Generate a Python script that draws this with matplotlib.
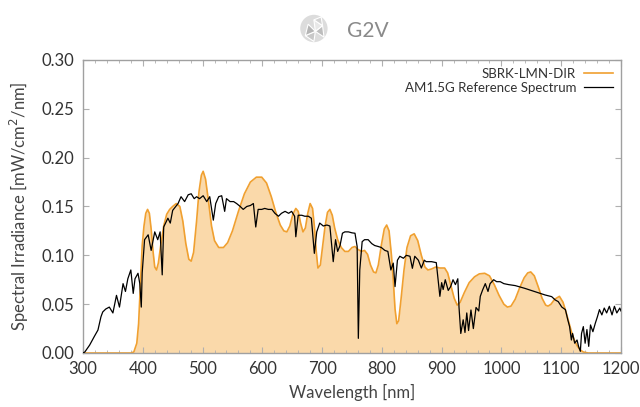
import numpy as np
import matplotlib.pyplot as plt
from matplotlib.ticker import MultipleLocator
from matplotlib.patches import Circle, Polygon

plt.rcParams["font.family"] = ["Lato", "DejaVu Sans"]

# SBRK-LMN-DIR simulator spectrum
sim_nm = [300, 380, 385, 390, 393, 396, 399, 402, 405, 408, 411, 414, 417, 420, 423, 426, 430,
          435, 440, 445, 450, 456, 462, 467, 472, 477, 481, 485, 490, 494, 498, 501, 505, 510,
          515, 520, 527, 535, 542, 550, 560, 570, 580, 590, 599, 607, 615, 622, 630, 636, 641,
          646, 651, 656, 660, 664, 668, 672, 676, 680, 684, 687, 690, 693, 697, 701, 705, 709,
          713, 717, 721, 726, 732, 738, 744, 750, 755, 760, 766, 771, 776, 781, 786, 790, 794,
          799, 804, 808, 812, 816, 819, 822, 825, 828, 832, 837, 842, 848, 854, 860, 866, 872,
          877, 883, 890, 897, 905, 910, 916, 921, 926, 931, 938, 946, 955, 963, 972, 980, 988,
          996, 1004, 1010, 1016, 1023, 1030, 1038, 1044, 1049, 1055, 1062, 1068, 1074, 1078,
          1083, 1089, 1097, 1103, 1108, 1112, 1117, 1122, 1127, 1132, 1137, 1145, 1200]
sim_val = [0, 0, 0.001, 0.01, 0.03, 0.07, 0.11, 0.13, 0.143, 0.147, 0.143, 0.127, 0.105, 0.088,
           0.085, 0.092, 0.11, 0.13, 0.142, 0.147, 0.150, 0.153, 0.15, 0.135, 0.112, 0.096,
           0.094, 0.103, 0.135, 0.165, 0.182, 0.186, 0.178, 0.155, 0.13, 0.115, 0.108, 0.108,
           0.113, 0.125, 0.145, 0.163, 0.175, 0.180, 0.180, 0.174, 0.16, 0.145, 0.131, 0.125,
           0.124, 0.13, 0.142, 0.148, 0.145, 0.133, 0.124, 0.128, 0.143, 0.153, 0.148, 0.13,
           0.105, 0.087, 0.09, 0.11, 0.13, 0.144, 0.147, 0.141, 0.128, 0.116, 0.108, 0.104,
           0.104, 0.108, 0.109, 0.106, 0.104, 0.105, 0.101, 0.09, 0.083, 0.082, 0.09, 0.11,
           0.127, 0.131, 0.125, 0.1, 0.075, 0.045, 0.03, 0.033, 0.055, 0.085, 0.108, 0.12,
           0.122, 0.115, 0.1, 0.088, 0.085, 0.086, 0.088, 0.087, 0.087, 0.082, 0.068, 0.056,
           0.049, 0.052, 0.062, 0.072, 0.078, 0.081, 0.0816, 0.079, 0.07, 0.059, 0.05, 0.047,
           0.048, 0.055, 0.066, 0.077, 0.082, 0.083, 0.079, 0.067, 0.056, 0.049, 0.048, 0.05,
           0.055, 0.058, 0.052, 0.042, 0.033, 0.022, 0.013, 0.007, 0.003, 0.001, 0, 0]

# AM1.5G reference spectrum
ref_nm = [300, 303, 311, 319, 325, 330, 333, 338, 344, 350, 356, 361, 367, 371, 375, 380, 384,
          387, 392, 395, 397.5, 399, 403, 409, 414, 420, 425, 429, 432.5, 435, 442, 446, 450,
          459, 464, 470, 476, 481, 486, 490, 495, 501, 507, 512, 518, 522, 527, 532, 537, 540,
          546, 552, 557, 563, 568, 574, 580, 585, 589, 593, 599, 604, 610, 616, 621, 627, 632,
          638, 644, 649, 654, 656, 660, 666, 671, 677, 682, 687, 691, 696, 702, 708, 713, 718.6,
          722.5, 726, 730, 734, 738, 744, 750, 755, 758.6, 760.6, 763, 767, 771, 777, 783, 788,
          794, 799, 805, 810, 815, 819, 822, 826, 830, 836, 841, 847, 851, 855, 861, 866, 871,
          874, 883, 891, 894, 897, 900, 902.5, 906, 911, 915, 919, 923, 927, 929, 932, 936, 939,
          942, 945, 949, 953, 957.5, 962, 964.6, 968.5, 973, 977.5, 981, 987, 992, 998, 1004,
          1012, 1023, 1034, 1039, 1056, 1073, 1084, 1090, 1095, 1101, 1107, 1111, 1114, 1117,
          1119, 1122.6, 1126.5, 1129, 1132, 1134, 1137, 1140, 1143, 1146, 1149, 1153, 1157,
          1160.5, 1164, 1168, 1172, 1176, 1180.5, 1185, 1189, 1193, 1198, 1200]
ref_val = [0.0, 0.001, 0.008, 0.017, 0.0235, 0.037, 0.042, 0.045, 0.047, 0.041, 0.059, 0.047,
           0.071, 0.063, 0.076, 0.085, 0.061, 0.076, 0.0816, 0.071, 0.047, 0.082, 0.116, 0.121,
           0.105, 0.124, 0.116, 0.124, 0.080, 0.129, 0.138, 0.133, 0.146, 0.153, 0.160, 0.155,
           0.162, 0.163, 0.158, 0.160, 0.158, 0.161, 0.155, 0.160, 0.136, 0.153, 0.160, 0.161,
           0.145, 0.158, 0.155, 0.155, 0.153, 0.150, 0.147, 0.150, 0.151, 0.153, 0.129, 0.147,
           0.147, 0.148, 0.147, 0.147, 0.143, 0.140, 0.143, 0.145, 0.143, 0.145, 0.140, 0.119,
           0.141, 0.141, 0.140, 0.140, 0.138, 0.102, 0.124, 0.133, 0.130, 0.131, 0.130, 0.0935,
           0.116, 0.104, 0.110, 0.1226, 0.124, 0.124, 0.123, 0.1226, 0.109, 0.015, 0.085, 0.114,
           0.116, 0.116, 0.112, 0.110, 0.109, 0.108, 0.105, 0.104, 0.085, 0.092, 0.068, 0.095,
           0.099, 0.097, 0.100, 0.099, 0.0867, 0.099, 0.095, 0.087, 0.095, 0.0935, 0.0935,
           0.0925, 0.075, 0.058, 0.072, 0.065, 0.075, 0.064, 0.068, 0.075, 0.070, 0.076, 0.047,
           0.020, 0.034, 0.021, 0.041, 0.023, 0.044, 0.025, 0.0466, 0.043, 0.058, 0.0645, 0.071,
           0.063, 0.071, 0.075, 0.073, 0.073, 0.071, 0.070, 0.069, 0.067, 0.0662, 0.0628, 0.0594,
           0.0577, 0.0543, 0.0526, 0.047, 0.0444, 0.034, 0.027, 0.0133, 0.020, 0.010, 0.0133,
           0.0068, 0.0017, 0.020, 0.027, 0.010, 0.024, 0.0068, 0.0287, 0.0218, 0.0304, 0.037,
           0.0444, 0.039, 0.046, 0.041, 0.0478, 0.039, 0.0478, 0.041, 0.046, 0.043]

ORANGE = "#f0a030"
FILL = "#fad9aa"
GREY = "#a0a0a0"

fig = plt.figure(figsize=(6.4, 4.07), dpi=100)
ax = fig.add_axes([0.1297, 0.1327, 0.8406, 0.72])

ax.fill_between(sim_nm, sim_val, 0, color=FILL, linewidth=0, zorder=1)
ax.plot(sim_nm, sim_val, color=ORANGE, linewidth=1.2, label="SBRK-LMN-DIR", zorder=2)
ax.plot(ref_nm, ref_val, color="black", linewidth=0.9, label="AM1.5G Reference Spectrum", zorder=3)

ax.set_xlim(300, 1200)
ax.set_ylim(0, 0.30)
ax.xaxis.set_major_locator(MultipleLocator(100))
ax.xaxis.set_minor_locator(MultipleLocator(20))
ax.yaxis.set_major_locator(MultipleLocator(0.05))
ax.yaxis.set_major_formatter(plt.FuncFormatter(lambda v, p: f"{v:.2f}"))
ax.tick_params(which="both", direction="in", top=True, right=True, color="#b0b0b0",
               labelsize=12, labelcolor="#333333", pad=6)
ax.tick_params(which="major", length=4, width=0.8)
ax.tick_params(which="minor", length=2, width=0.6)
for s in ax.spines.values():
    s.set_color(GREY)
    s.set_linewidth(1.0)

ax.set_xlabel("Wavelength [nm]", fontsize=12, color="#444444", labelpad=5)
ax.set_ylabel("Spectral Irradiance [mW/cm$^2$/nm]", fontsize=12, color="#444444", labelpad=8)

leg = ax.legend(loc="upper right", frameon=False, markerfirst=False, fontsize=9.5,
                handlelength=2.2, borderaxespad=0.2, labelspacing=0.15, handletextpad=0.6)
for t in leg.get_texts():
    t.set_color("#333333")
    t.set_ha("right")

# G2V logo
lax = fig.add_axes([0.468, 0.885, 0.045, 0.09])
lax.set_xlim(-1, 1)
lax.set_ylim(-1, 1)
lax.set_aspect("equal")
lax.axis("off")
lax.add_patch(Circle((0, 0), 0.95, facecolor="#dcdcdc", edgecolor="none"))
tri = [[(-0.6, -0.5), (0.0, -0.9), (0.1, -0.2)], [(0.1, -0.2), (0.7, -0.6), (0.6, 0.2)],
       [(0.1, -0.2), (0.6, 0.2), (0.0, 0.6)], [(-0.6, -0.5), (0.1, -0.2), (-0.4, 0.3)],
       [(0.0, 0.6), (0.6, 0.2), (0.5, 0.8)]]
for i, t in enumerate(tri):
    lax.add_patch(Polygon(t, closed=True, facecolor=["#c8c8c8", "#bdbdbd", "#e8e8e8",
                                                      "#b5b5b5", "#d2d2d2"][i],
                          edgecolor="white", linewidth=0.8))
fig.text(0.575, 0.925, "G2V", fontsize=15, color="#8a8a8a", ha="center", va="center")

fig.savefig("out.png", dpi=100)
